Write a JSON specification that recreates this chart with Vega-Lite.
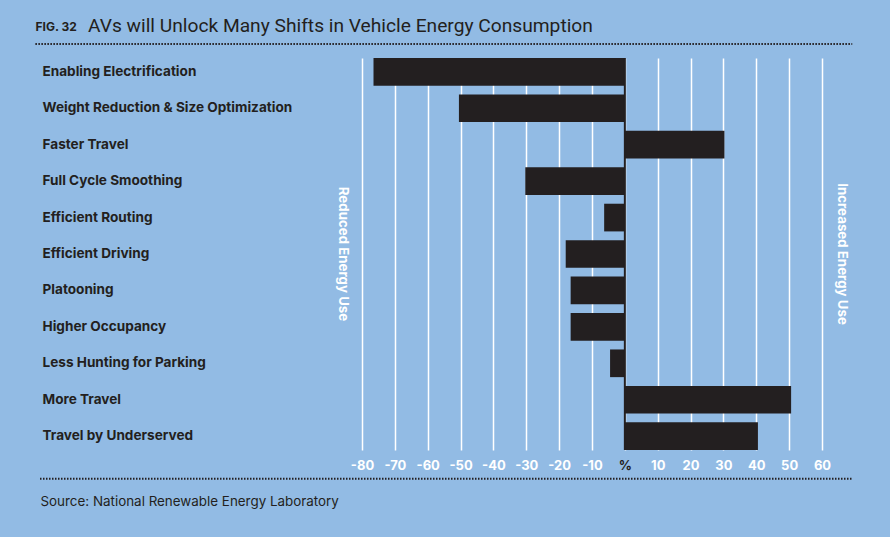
{
  "$schema": "https://vega.github.io/schema/vega-lite/v6.json",
  "width": 460,
  "height": 392,
  "autosize": {"type": "none"},
  "padding": {"left": 362, "top": 58, "right": 68, "bottom": 87},
  "background": "#92bbe4",
  "config": {"view": {"stroke": null}, "font": "Inter"},
  "title": {
    "text": "AVs will Unlock Many Shifts in Vehicle Energy Consumption",
    "anchor": "start",
    "frame": "group",
    "dx": -274,
    "fontSize": 19.2,
    "fontWeight": "normal",
    "color": "#231f20",
    "font": "Roboto",
    "baseline": "alphabetic",
    "offset": -31
  },
  "resolve": {"axis": {"x": "independent", "y": "independent"}},
  "layer": [
    {
      "data": {"values": [
        {"factor": "Enabling Electrification", "value": -76.5},
        {"factor": "Weight Reduction & Size Optimization", "value": -50.5},
        {"factor": "Faster Travel", "value": 30.3},
        {"factor": "Full Cycle Smoothing", "value": -30.3},
        {"factor": "Efficient Routing", "value": -6.3},
        {"factor": "Efficient Driving", "value": -18},
        {"factor": "Platooning", "value": -16.5},
        {"factor": "Higher Occupancy", "value": -16.5},
        {"factor": "Less Hunting for Parking", "value": -4.5},
        {"factor": "More Travel", "value": 50.6},
        {"factor": "Travel by Underserved", "value": 40.5}
      ]},
      "mark": {"type": "bar", "color": "#231f20"},
      "encoding": {
        "y": {
          "field": "factor", "type": "nominal",
          "scale": {"domain": ["Enabling Electrification", "Weight Reduction & Size Optimization", "Faster Travel", "Full Cycle Smoothing", "Efficient Routing", "Efficient Driving", "Platooning", "Higher Occupancy", "Less Hunting for Parking", "More Travel", "Travel by Underserved"], "paddingInner": 0.24, "paddingOuter": 0},
          "axis": {
            "title": "FIG. 32",
            "titleX": -327, "titleY": -28, "titleAngle": 0,
            "titleAlign": "left", "titleBaseline": "alphabetic",
            "titleFontSize": 12, "titleFontWeight": "bold", "titleColor": "#231f20",
            "ticks": false, "domain": false,
            "labelAlign": "left", "labelPadding": 320,
            "labelFontSize": 13.6, "labelFontWeight": "bold", "labelColor": "#231f20",
            "labelLimit": 0
          }
        },
        "x": {
          "field": "value", "type": "quantitative",
          "scale": {"domain": [-80, 60], "nice": false, "zero": false},
          "axis": {
            "values": [-80, -70, -60, -50, -40, -30, -20, -10, 0, 10, 20, 30, 40, 50, 60],
            "grid": true, "gridColor": "white", "gridWidth": 1.5, "gridOpacity": 1,
            "ticks": false, "domain": false,
            "labelColor": {"condition": {"test": "datum.value === 0", "value": "#231f20"}, "value": "white"},
            "labelFontWeight": "bold", "labelFontSize": 13, "labelPadding": 9,
            "labelFlush": false, "labelOverlap": false,
            "labelExpr": "datum.value === 0 ? '%' : replace(datum.label, '\u2212', '-')",
            "title": "Source: National Renewable Energy Laboratory",
            "titleX": -322, "titleY": 51, "titleAlign": "left", "titleBaseline": "middle",
            "titleFontWeight": "normal", "titleFontSize": 13.4, "titleColor": "#231f20"
          }
        }
      }
    },
    {
      "data": {"values": [{}]},
      "mark": {"type": "rule", "color": "#231f20", "strokeWidth": 2},
      "encoding": {"x": {"datum": 0, "axis": null}}
    },
    {
      "data": {"values": [{}]},
      "mark": {"type": "text", "angle": 90, "align": "center", "baseline": "middle", "color": "white", "fontWeight": "bold", "fontSize": 13.3},
      "encoding": {"x": {"datum": -85.7, "axis": null}, "y": {"datum": "Efficient Driving", "axis": null}, "text": {"value": "Reduced Energy Use"}}
    },
    {
      "data": {"values": [{}]},
      "mark": {"type": "text", "angle": 90, "align": "center", "baseline": "middle", "color": "white", "fontWeight": "bold", "fontSize": 13.3},
      "encoding": {"x": {"datum": 66.2, "axis": null}, "y": {"datum": "Efficient Driving", "axis": null}, "text": {"value": "Increased Energy Use"}}
    },
    {
      "data": {"values": [{}]},
      "mark": {"type": "rule", "color": "#231f20", "strokeWidth": 2, "strokeDash": [1.5, 1.5], "clip": false},
      "encoding": {"x": {"datum": -179.4, "axis": null}, "x2": {"datum": 69.2}, "y": {"value": -14}}
    },
    {
      "data": {"values": [{}]},
      "mark": {"type": "rule", "color": "#231f20", "strokeWidth": 2, "strokeDash": [1.5, 1.5], "clip": false},
      "encoding": {"x": {"datum": -178, "axis": null}, "x2": {"datum": 69.2}, "y": {"value": 420.7}}
    }
  ]
}
